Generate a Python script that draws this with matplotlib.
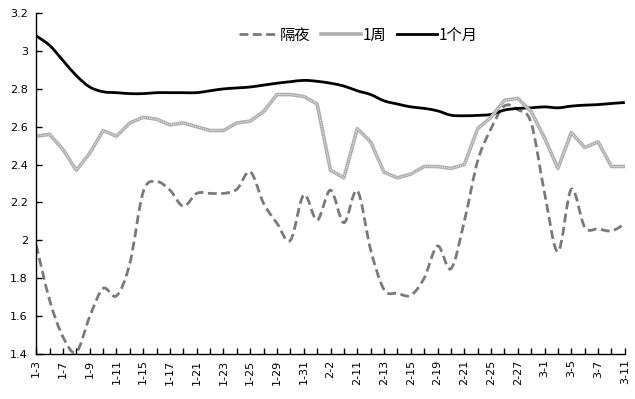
import numpy as np
import matplotlib
matplotlib.use("Agg")
import matplotlib.pyplot as plt
from matplotlib.path import Path
from matplotlib.patches import PathPatch
from matplotlib.lines import Line2D
from matplotlib.ticker import FuncFormatter

plt.rcParams["font.family"] = ["Noto Sans CJK SC", "DejaVu Sans"]

# ── Data ──────────────────────────────────────────────────────
tick_labels = ["1-3", "1-7", "1-9", "1-11", "1-15", "1-17", "1-21", "1-23",
               "1-25", "1-29", "1-31", "2-2", "2-11", "2-13", "2-15", "2-19",
               "2-21", "2-25", "2-27", "3-1", "3-5", "3-7", "3-11"]

overnight = [1.975, 1.685, 1.49, 1.41, 1.597, 1.746, 1.707, 1.878, 2.256, 2.31,
             2.265, 2.18, 2.248, 2.248, 2.248, 2.27, 2.362, 2.195, 2.09, 2.00,
             2.24, 2.107, 2.265, 2.093, 2.262, 1.95, 1.74, 1.72, 1.71, 1.80,
             1.97, 1.85, 2.10, 2.42, 2.59, 2.71, 2.69, 2.62, 2.25, 1.94,
             2.27, 2.07, 2.06, 2.05, 2.086]

week = [2.55, 2.56, 2.48, 2.37, 2.46, 2.58, 2.55, 2.62, 2.65, 2.64,
        2.61, 2.62, 2.60, 2.58, 2.58, 2.62, 2.63, 2.68, 2.77, 2.77,
        2.76, 2.72, 2.37, 2.33, 2.59, 2.52, 2.36, 2.33, 2.35, 2.39,
        2.39, 2.38, 2.40, 2.59, 2.65, 2.74, 2.75, 2.68, 2.54, 2.38,
        2.57, 2.49, 2.52, 2.39, 2.39]

month = [3.08, 3.03, 2.95, 2.87, 2.81, 2.785, 2.78, 2.775, 2.775, 2.78,
         2.78, 2.78, 2.78, 2.79, 2.80, 2.805, 2.81, 2.82, 2.83, 2.838,
         2.845, 2.84, 2.83, 2.815, 2.79, 2.77, 2.737, 2.72, 2.705, 2.697,
         2.684, 2.661, 2.658, 2.66, 2.665, 2.688, 2.697, 2.70, 2.705, 2.70,
         2.709, 2.714, 2.717, 2.723, 2.728]

x = np.arange(len(month))


def smooth_path(xs, ys):
    """Excel-style smoothed line as a bezier path through the points."""
    pts = np.column_stack([xs, ys]).astype(float)
    verts = [pts[0]]
    codes = [Path.MOVETO]
    n = len(pts)
    for i in range(n - 1):
        p0 = pts[max(i - 1, 0)]
        p1 = pts[i]
        p2 = pts[i + 1]
        p3 = pts[min(i + 2, n - 1)]
        c1 = p1 + (p2 - p0) / 6.0
        c2 = p2 - (p3 - p1) / 6.0
        verts += [c1, c2, p2]
        codes += [Path.CURVE4] * 3
    return Path(verts, codes)


fig = plt.figure(figsize=(6.35, 3.99), dpi=100)
ax = fig.add_axes([0.057, 0.113, 0.927, 0.854])

ON_COLOR = "#7a7a7a"
WK_COLOR = "#b0b0b0"

ax.add_patch(PathPatch(smooth_path(x, overnight), fill=False,
                       edgecolor=ON_COLOR, linewidth=2.0,
                       linestyle=(0, (3.2, 1.6)), capstyle="butt"))
ax.plot(x, week, color=WK_COLOR, linewidth=2.6)
ax.plot(x, week, color="white", linewidth=0.6, linestyle=(0, (1, 1.5)))
ax.add_patch(PathPatch(smooth_path(x, month), fill=False,
                       edgecolor="black", linewidth=2.0))

ax.set_xlim(0, len(month) - 1)
ax.set_ylim(1.4, 3.2)
ax.set_yticks(np.arange(1.4, 3.21, 0.2))
ax.yaxis.set_major_formatter(FuncFormatter(lambda v, p: f"{v:g}"))
ax.set_xticks(x, minor=False)
ax.set_xticklabels([tick_labels[i // 2] if i % 2 == 0 else "" for i in x],
                   rotation=90, fontsize=8, family="DejaVu Sans")
for lab in ax.get_yticklabels():
    lab.set_fontsize(8)
    lab.set_family("DejaVu Sans")
ax.tick_params(axis="both", direction="in", length=4, width=1, pad=4,
               colors="black")
ax.tick_params(axis="y", pad=6)

for s in ["top", "right"]:
    ax.spines[s].set_visible(False)
for s in ["left", "bottom"]:
    ax.spines[s].set_linewidth(1)
    ax.spines[s].set_color("black")

handles = [
    Line2D([], [], color=ON_COLOR, linewidth=2.0, linestyle=(0, (3.2, 1.6))),
    Line2D([], [], color=WK_COLOR, linewidth=2.6),
    Line2D([], [], color="black", linewidth=2.0),
]
ax.legend(handles, ["隔夜", "1周", "1个月"], ncol=3, frameon=False,
          loc="center", bbox_to_anchor=(0.547, 0.935), fontsize=11,
          handlelength=2.6, handletextpad=0.1, columnspacing=0.7)

fig.savefig("out.png", dpi=100)
